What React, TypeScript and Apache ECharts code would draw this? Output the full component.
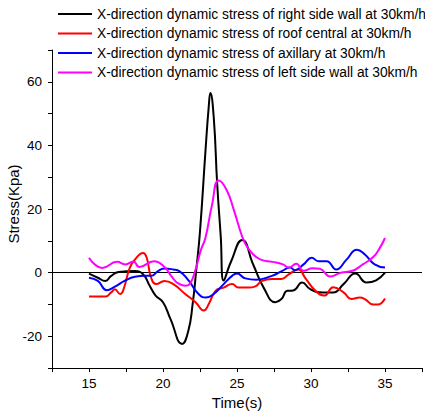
import React, { useEffect, useRef } from "react";
import * as echarts from "echarts";

const FONT = "'Liberation Sans', Arial, sans-serif";

const seriesNames = [
  "X-direction dynamic stress of right side wall at 30km/h",
  "X-direction dynamic stress of roof central at 30km/h",
  "X-direction dynamic stress of axillary at 30km/h",
  "X-direction dynamic stress of left side wall at 30km/h",
];
const seriesColors = ["#000000", "#ff0000", "#0000ff", "#ff00ff"];

const rightWallT = [15, 15.6, 16.1, 16.5, 17, 18.1, 18.65, 19.1, 19.5, 20, 20.5, 21.3, 21.7, 22.0, 22.25, 22.5, 22.87, 23.1, 23.2, 23.43, 23.66, 23.9, 24.1, 24.6, 25.35, 26.1, 26.8, 27.6, 28.0, 28.4, 28.8, 29.4, 29.95, 30.8, 31.5, 32.2, 33.0, 33.75, 34.4, 35];
const rightWallV = [-0.3, -1.6, -2.6, -1, 0.2, 0.5, -0.5, -4.1, -7.2, -9.3, -14.5, -22.4, -18.5, -10, 1, 13, 38.3, 52.8, 56.5, 48.7, 28, 11.5, -2.5, 3.5, 10.3, 2.5, -4.7, -9.3, -8.3, -5.7, -5.6, -3.1, -5.2, -6.2, -6.2, -3.6, -0.3, -3.1, -2.4, 0];

const roofT = [15, 16.1, 16.5, 16.75, 17.1, 17.3, 17.76, 18.1, 18.65, 18.9, 19.2, 19.55, 20.1, 20.7, 21.5, 22.2, 22.76, 23.1, 23.55, 24.1, 24.67, 25.1, 25.8, 26.2, 26.7, 27.36, 28.0, 28.5, 29.15, 29.6, 30.3, 30.9, 31.5, 32.2, 32.75, 33.3, 33.64, 34.2, 34.5, 35];
const roofV = [-7.5, -7.5, -6.2, -5.2, -6.7, -5.7, 1.6, 4.1, 6.2, 4.7, -1.6, -3.6, -2.6, -3.6, -6.7, -9.3, -11.9, -9.8, -5.7, -4.7, -3.6, -4.7, -4.7, -4.4, -2.6, -2, -2, -0.5, 1, -1.6, -5.7, -7.2, -4.6, -6.2, -8.3, -7.8, -8.3, -10, -10, -8.1];

const axillaryT = [15, 15.6, 16.2, 16.75, 17.4, 18.1, 18.8, 19.2, 19.66, 20.1, 20.7, 21.1, 21.75, 22.4, 22.9, 23.43, 24.1, 24.67, 25.0, 25.56, 26.3, 27.36, 28.03, 28.6, 28.9, 29.5, 30.05, 30.5, 31.06, 31.7, 32.4, 33.1, 33.64, 34.3, 35];
const axillaryV = [-1.6, -2.6, -5.5, -4.4, -2.6, -1.3, -1, -1, 0.5, 1.3, 1, 0.5, -2.6, -6.7, -7.8, -6.7, -3.6, -1, -0.3, -1.8, -2.2, -1, 0.5, 1.6, 0.8, 2.6, 4.7, 3.6, 3.6, 1, 4.1, 7.2, 5.7, 2.6, 1.6];

const leftWallT = [15, 15.9, 16.9, 17.45, 18.0, 18.4, 19.4, 20.1, 20.55, 21.0, 21.5, 21.8, 22.2, 22.55, 22.87, 23.3, 23.77, 24.3, 24.8, 25.3, 25.6, 26.0, 26.6, 27.4, 28.1, 28.5, 29.0, 29.5, 30.1, 30.6, 31.3, 32.0, 32.75, 33.5, 34.2, 34.65, 35];
const leftWallV = [4.7, 1.5, 3.4, 2.6, 3.5, 1.8, 3.6, 1.8, -1, -3.3, -4.1, -3.6, 1.0, 7, 11, 21, 29, 26, 19.5, 12, 8.8, 6.2, 4.1, 3.4, 2.6, 1.6, 2.8, 0.6, 1.4, 1.2, -1.2, 0, 0.5, 2.6, 4.9, 7.8, 10.9];

const allT = [rightWallT, roofT, axillaryT, leftWallT];
const allV = [rightWallV, roofV, axillaryV, leftWallV];

const xLabelStep = 5;
const yLabelStep = 20;

export default function App() {
  const ref = useRef<HTMLDivElement>(null);
  useEffect(() => {
    if (!ref.current) return;
    const chart = echarts.init(ref.current, undefined, { renderer: "svg" });
    const series: any[] = seriesNames.map((name, i) => ({
      name,
      type: "line",
      smooth: true,
      symbol: "none",
      data: allT[i].map((t, j) => [t, allV[i][j]]),
      lineStyle: { color: seriesColors[i], width: 2 },
      itemStyle: { color: seriesColors[i] },
      z: 3 + i,
    }));
    series[0].markLine = {
      silent: true,
      symbol: ["none", "none"],
      label: { show: false },
      lineStyle: { color: "#000", width: 1, type: "solid" },
      data: [{ yAxis: 0 }],
      z: 1,
    };
    chart.setOption({
      animation: false,
      backgroundColor: "#fff",
      grid: { left: 52, top: 50, right: 3, bottom: 43 },
      legend: {
        orient: "vertical",
        left: 58,
        top: 7,
        icon: "rect",
        itemWidth: 34,
        itemHeight: 2,
        itemGap: 5.5,
        padding: 0,
        textStyle: { fontSize: 13.8, fontFamily: FONT, color: "#000", lineHeight: 14 },
        data: seriesNames,
      },
      xAxis: {
        type: "value",
        min: 12.5,
        max: 37.5,
        interval: 2.5,
        name: "Time(s)",
        nameLocation: "middle",
        nameGap: 24,
        nameTextStyle: { fontSize: 15, fontFamily: FONT, color: "#000" },
        axisLine: { onZero: false, lineStyle: { color: "#000", width: 1 } },
        axisTick: { length: 4, lineStyle: { color: "#000" } },
        axisLabel: {
          margin: 8,
          fontSize: 13.5,
          fontFamily: FONT,
          color: "#000",
          formatter: (v: number) => (Math.abs(v % xLabelStep) < 1e-6 ? String(v) : ""),
        },
        splitLine: { show: false },
      },
      yAxis: {
        type: "value",
        min: -30,
        max: 70,
        interval: 10,
        axisLine: { show: true, onZero: false, lineStyle: { color: "#000", width: 1 } },
        axisTick: { show: true, length: 4, lineStyle: { color: "#000" } },
        axisLabel: {
          margin: 10,
          fontSize: 13.5,
          fontFamily: FONT,
          color: "#000",
          formatter: (v: number) => (Math.abs(v % yLabelStep) < 1e-6 ? String(v) : ""),
        },
        splitLine: { show: false },
      },
      graphic: [
        {
          type: "text",
          x: 13,
          y: 204,
          rotation: Math.PI / 2,
          style: {
            text: "Stress(Kpa)",
            fontSize: 15,
            fontFamily: FONT,
            fill: "#000",
            align: "center",
            verticalAlign: "middle",
          },
        },
      ],
      series,
    });
    return () => chart.dispose();
  }, []);
  return (
    <div
      ref={ref}
      style={{ position: "fixed", left: 0, top: 0, width: 425, height: 415 }}
    />
  );
}
